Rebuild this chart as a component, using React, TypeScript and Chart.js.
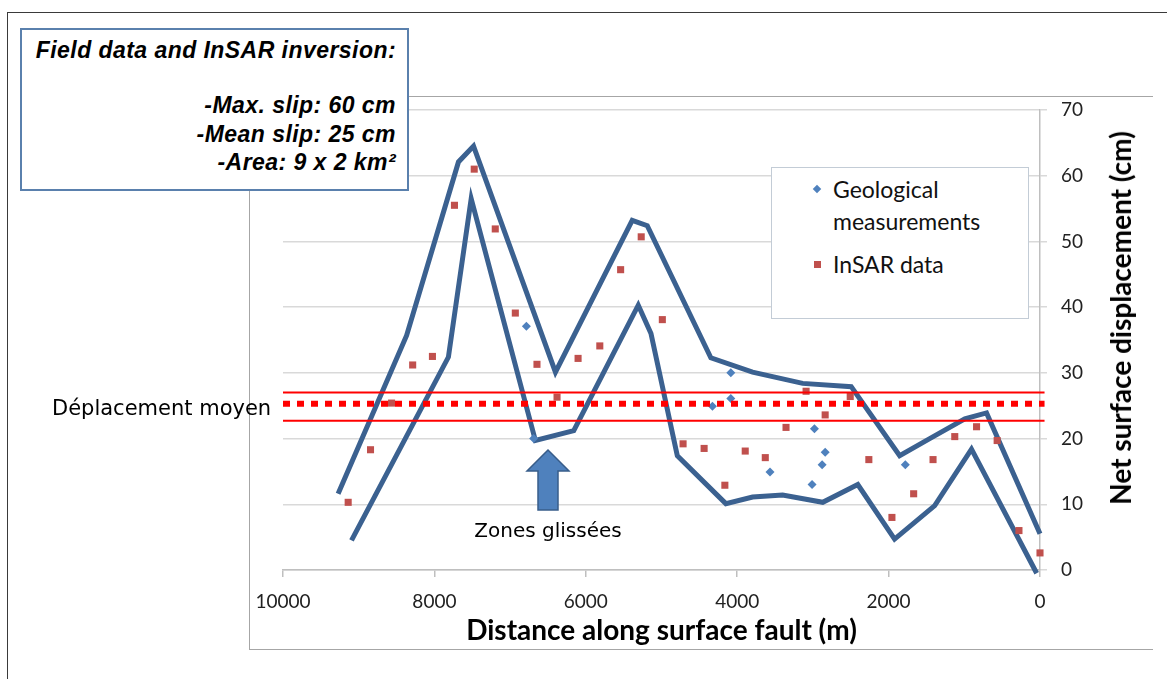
import React, { useEffect, useRef } from "react";
import { Chart, registerables } from "chart.js";

Chart.register(...registerables);

// ---- Data ----
const xTickValues = [10000, 8000, 6000, 4000, 2000, 0];
const yTickValues = [0, 10, 20, 30, 40, 50, 60, 70];

// Upper envelope (inversion band, top)
const upperDistance = [9272, 8367, 7682, 7483, 6401, 5387, 5188, 4348, 3797, 3135, 2494, 1854, 1457, 993, 706, 0];
const upperSlip = [11.6, 35.7, 62.1, 64.5, 30.1, 53.2, 52.4, 32.3, 30.1, 28.4, 27.9, 17.4, 20.0, 23.0, 23.9, 5.5];

// Lower envelope (inversion band, bottom)
const lowerDistance = [9095, 7815, 7514, 6666, 6159, 5307, 5139, 4791, 4150, 3797, 3400, 2870, 2407, 1921, 1391, 905, 44];
const lowerSlip = [4.5, 32.4, 56.5, 19.7, 21.2, 40.3, 36.0, 17.4, 10.1, 11.1, 11.4, 10.3, 13.0, 4.7, 9.8, 18.4, -0.5];

// InSAR data
const insarDistance = [9139, 8844, 8566, 8287, 8026, 7735, 7474, 7196, 6931, 6645, 6380, 6102, 5815, 5540, 5268, 4989, 4715, 4437, 4163, 3894, 3629, 3355, 3090, 2838, 2507, 2261, 1956, 1669, 1413, 1126, 838, 566, 278, 0];
const insarSlip = [10.3, 18.3, 25.4, 31.2, 32.5, 55.5, 61.0, 51.9, 39.1, 31.3, 26.3, 32.2, 34.1, 45.7, 50.7, 38.1, 19.2, 18.5, 12.9, 18.1, 17.1, 21.7, 27.2, 23.6, 26.4, 16.8, 8.0, 11.6, 16.8, 20.3, 21.8, 19.7, 6.0, 2.6];

// Geological measurements
const geoDistance = [6785, 6689, 4084, 4084, 4327, 3567, 2980, 2838, 2878, 3011, 1779];
const geoSlip = [37.1, 20.0, 30.0, 26.1, 24.9, 14.9, 21.5, 17.9, 16.0, 13.0, 16.0];

// Mean displacement band
const bandDistance = [10000, -60];
const meanSlip = 25.3;
const bandHigh = 27.0;
const bandLow = 22.7;

const toPoints = (xs: number[], ys: number[]) => xs.map((x, i) => ({ x, y: ys[i] }));

const BLUE_LINE = "#3b6190";

function SlipChart() {
  const canvasRef = useRef<HTMLCanvasElement | null>(null);

  useEffect(() => {
    const canvas = canvasRef.current;
    if (!canvas) return;
    const chart = new Chart(canvas, {
      type: "scatter",
      data: {
        datasets: [
          {
            label: "Déplacement moyen",
            data: toPoints(bandDistance, [meanSlip, meanSlip]),
            showLine: true,
            borderColor: "#ff0000",
            borderWidth: 6,
            borderDash: [7, 7],
            borderCapStyle: "butt",
            pointRadius: 0,
            clip: false,
          },
          {
            label: "high",
            data: toPoints(bandDistance, [bandHigh, bandHigh]),
            showLine: true,
            borderColor: "#ff0000",
            borderWidth: 2,
            pointRadius: 0,
            clip: false,
          },
          {
            label: "low",
            data: toPoints(bandDistance, [bandLow, bandLow]),
            showLine: true,
            borderColor: "#ff0000",
            borderWidth: 2,
            pointRadius: 0,
            clip: false,
          },
          {
            label: "Geological measurements",
            data: toPoints(geoDistance, geoSlip),
            pointStyle: "rectRot",
            pointRadius: 4.5,
            backgroundColor: "#4f81bd",
            borderColor: "#4f81bd",
            borderWidth: 0,
            clip: false,
          },
          {
            label: "InSAR data",
            data: toPoints(insarDistance, insarSlip),
            pointStyle: "rect",
            pointRadius: 5,
            backgroundColor: "#c0504d",
            borderColor: "#c0504d",
            borderWidth: 0,
            clip: false,
          },
          {
            label: "upper",
            data: toPoints(upperDistance, upperSlip),
            showLine: true,
            borderColor: BLUE_LINE,
            borderWidth: 5,
            pointRadius: 0,
            borderJoinStyle: "miter",
            clip: false,
          },
          {
            label: "lower",
            data: toPoints(lowerDistance, lowerSlip),
            showLine: true,
            borderColor: BLUE_LINE,
            borderWidth: 5,
            pointRadius: 0,
            borderJoinStyle: "miter",
            clip: false,
          },
        ],
      },
      options: {
        animation: false,
        responsive: false,
        devicePixelRatio: 1,
        layout: { padding: { left: 283, top: 110, right: 0, bottom: 0 } },
        plugins: {
          legend: { display: false },
          tooltip: { enabled: false },
          title: { display: false },
        },
        scales: {
          x: {
            type: "linear",
            position: "bottom",
            reverse: true,
            min: 0,
            max: 10000,
            afterFit: (s: any) => {
              s.height = 109;
            },
            afterBuildTicks: (s: any) => {
              s.ticks = xTickValues.map((v) => ({ value: v }));
            },
            ticks: {
              autoSkip: false,
              maxRotation: 0,
              padding: 13,
              color: "#222",
              font: { family: "Lato", size: 19 },
              callback: (v: any) => String(v),
            },
            grid: {
              drawOnChartArea: false,
              drawTicks: true,
              tickLength: 7,
              color: "#bfbfbf",
              lineWidth: 1.5,
            },
            border: { display: true, color: "#bfbfbf", width: 1.5 },
            title: {
              display: true,
              text: "Distance along surface fault (m)",
              color: "#000",
              font: { family: "Lato", size: 28, weight: "bold" },
              padding: { top: 0, bottom: 31 },
            },
          },
          y: {
            type: "linear",
            position: "right",
            min: 0,
            max: 70,
            afterFit: (s: any) => {
              s.width = 127;
            },
            afterBuildTicks: (s: any) => {
              s.ticks = yTickValues.map((v) => ({ value: v }));
            },
            ticks: {
              padding: 14,
              color: "#222",
              font: { family: "Lato", size: 19 },
              callback: (v: any) => String(v),
            },
            grid: {
              color: "#d9d9d9",
              lineWidth: 1.5,
              tickLength: 7,
              drawTicks: true,
            },
            border: { display: true, color: "#bfbfbf", width: 1.5 },
            title: { display: false },
          },
        },
      },
    } as any);
    return () => chart.destroy();
  }, []);

  return (
    <canvas
      ref={canvasRef}
      width={1167}
      height={679}
      style={{ position: "absolute", left: 0, top: 0, width: 1167, height: 679 }}
    />
  );
}

const abs = (extra: React.CSSProperties): React.CSSProperties => ({ position: "absolute", margin: 0, ...extra });

export default function App() {
  const boxFont: React.CSSProperties = {
    fontFamily: "'Liberation Sans', Arial, sans-serif",
    fontWeight: "bold",
    fontStyle: "italic",
    fontSize: 23,
    lineHeight: "28px",
    letterSpacing: "0.45px",
    color: "#000",
    whiteSpace: "nowrap",
    textAlign: "right",
  };
  const legendFont: React.CSSProperties = {
    fontFamily: "Lato, sans-serif",
    fontSize: 23,
    lineHeight: "30px",
    color: "#111",
    whiteSpace: "nowrap",
  };
  const labelFont: React.CSSProperties = {
    fontFamily: "'DejaVu Sans', sans-serif",
    fontSize: 20,
    lineHeight: "24px",
    color: "#000",
    whiteSpace: "nowrap",
  };
  return (
    <div style={abs({ left: 0, top: 0, width: 1167, height: 679, overflow: "hidden", background: "#fff" })}>
      {/* outer frame */}
      <div style={abs({ left: 7, top: 12, width: 1170, height: 700, borderLeft: "1.5px solid #3a3a3a", borderTop: "1.5px solid #3a3a3a" })} />
      {/* chart frame */}
      <div style={abs({ left: 249, top: 96, width: 903, height: 552, borderLeft: "1px solid #a6a6a6", borderTop: "1px solid #a6a6a6", borderBottom: "1px solid #a6a6a6" })} />

      <SlipChart />

      {/* Y axis title */}
      <div
        style={abs({
          left: 1120,
          top: 318,
          transform: "translate(-50%, -50%) rotate(-90deg)",
          fontFamily: "Lato, sans-serif",
          fontWeight: "bold",
          fontSize: 28,
          lineHeight: "32px",
          color: "#000",
          whiteSpace: "nowrap",
        })}
      >
        Net surface displacement (cm)
      </div>

      {/* Info box */}
      <div style={abs({ left: 20, top: 28, width: 385, height: 159, border: "2px solid #5a80ad", background: "#fff" })}>
        <div style={abs({ right: 11, top: 6, ...boxFont })}>Field data and InSAR inversion:</div>
        <div style={abs({ right: 11, top: 61, ...boxFont })}>-Max. slip: 60 cm</div>
        <div style={abs({ right: 11, top: 90, ...boxFont })}>-Mean slip: 25 cm</div>
        <div style={abs({ right: 11, top: 118, ...boxFont })}>-Area: 9 x 2 km²</div>
      </div>

      {/* Legend */}
      <div style={abs({ left: 771, top: 167, width: 256, height: 150, border: "1px solid #c3ccd6", background: "#fff" })}>
        <div style={abs({ left: 42, top: 18, width: 6, height: 6, background: "#4f81bd", transform: "rotate(45deg)" })} />
        <div style={abs({ left: 61, top: 6, ...legendFont })}>Geological</div>
        <div style={abs({ left: 61, top: 38, ...legendFont })}>measurements</div>
        <div style={abs({ left: 42, top: 93, width: 7, height: 7, background: "#c0504d" })} />
        <div style={abs({ left: 61, top: 81, ...legendFont })}>InSAR data</div>
      </div>

      {/* Annotations */}
      <div style={abs({ left: 52, top: 396, ...labelFont, fontSize: 21 })}>Déplacement moyen</div>
      <svg style={abs({ left: 0, top: 0, width: 1167, height: 679, overflow: "visible", pointerEvents: "none" })} width={1167} height={679}>
        <polygon
          points="548,450 527,471 538,471 538,510 558,510 558,471 569,471"
          fill="#4f81bd"
          stroke="#385d8a"
          strokeWidth={1.5}
          strokeLinejoin="miter"
        />
      </svg>
      <div style={abs({ left: 548, top: 518, transform: "translateX(-50%)", ...labelFont })}>Zones glissées</div>
    </div>
  );
}
